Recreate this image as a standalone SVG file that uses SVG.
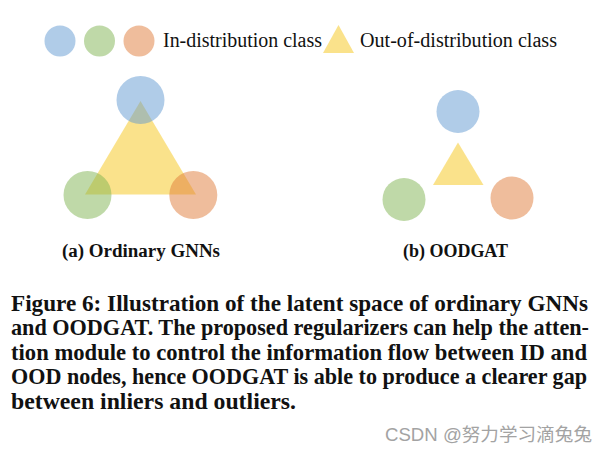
<svg xmlns="http://www.w3.org/2000/svg" width="606" height="456" viewBox="0 0 606 456">
<style>
.blue{fill:#6199d1;fill-opacity:0.5}
.green{fill:#80b352;fill-opacity:0.5}
.orange{fill:#e07b39;fill-opacity:0.5}
.yellow{fill:#f5c518;fill-opacity:0.5}
.leg{font-family:"Liberation Serif","Times New Roman",serif;font-size:20px;fill:#111}
.lab{font-family:"Liberation Serif","Times New Roman",serif;font-size:18px;font-weight:bold;fill:#111}
.cap{font-family:"Liberation Serif","Times New Roman",serif;font-size:22.5px;font-weight:bold;fill:#111}
.wm{font-family:"Liberation Sans","Noto Sans CJK SC",sans-serif;font-size:18px;fill:#a3a3a3}
</style>
<rect width="606" height="456" fill="#ffffff"/>
<g id="legend">
<circle class="blue" cx="60" cy="41" r="15.5"/>
<circle class="green" cx="99.5" cy="41" r="15.5"/>
<circle class="orange" cx="139" cy="41" r="15.5"/>
<text class="leg" x="163" y="46.5" textLength="159" lengthAdjust="spacingAndGlyphs">In-distribution class</text>
<polygon class="yellow" points="338.5,25 354,53 323,53"/>
<text class="leg" x="360" y="46.5" textLength="197" lengthAdjust="spacingAndGlyphs">Out-of-distribution class</text>
</g>
<g id="panel-a">
<polygon class="yellow" points="140.5,101 196,194.5 85,194.5"/>
<circle class="blue" cx="140.5" cy="100" r="24"/>
<circle class="green" cx="87.5" cy="195" r="24"/>
<circle class="orange" cx="193.3" cy="195" r="24"/>
<text class="lab" x="62" y="257" textLength="158" lengthAdjust="spacingAndGlyphs">(a) Ordinary GNNs</text>
</g>
<g id="panel-b">
<circle class="blue" cx="458" cy="111.5" r="21.5"/>
<polygon class="yellow" points="458,142.5 483.5,185 433,185"/>
<circle class="green" cx="404" cy="199.5" r="21.5"/>
<circle class="orange" cx="512" cy="198" r="21.5"/>
<text class="lab" x="403" y="257" textLength="105" lengthAdjust="spacingAndGlyphs">(b) OODGAT</text>
</g>
<g id="connectors"></g>
<g id="caption">
<text class="cap" x="11" y="310.5" textLength="577" lengthAdjust="spacingAndGlyphs">Figure 6: Illustration of the latent space of ordinary GNNs</text>
<text class="cap" x="11" y="335" textLength="578" lengthAdjust="spacingAndGlyphs">and OODGAT. The proposed regularizers can help the atten-</text>
<text class="cap" x="11" y="359.5" textLength="576" lengthAdjust="spacingAndGlyphs">tion module to control the information flow between ID and</text>
<text class="cap" x="11" y="384" textLength="576" lengthAdjust="spacingAndGlyphs">OOD nodes, hence OODGAT is able to produce a clearer gap</text>
<text class="cap" x="11" y="408.5" textLength="285" lengthAdjust="spacingAndGlyphs">between inliers and outliers.</text>
</g>
<g id="watermark">
<text class="wm" x="385" y="441" textLength="207" lengthAdjust="spacingAndGlyphs">CSDN @努力学习滴兔兔</text>
</g>
</svg>
